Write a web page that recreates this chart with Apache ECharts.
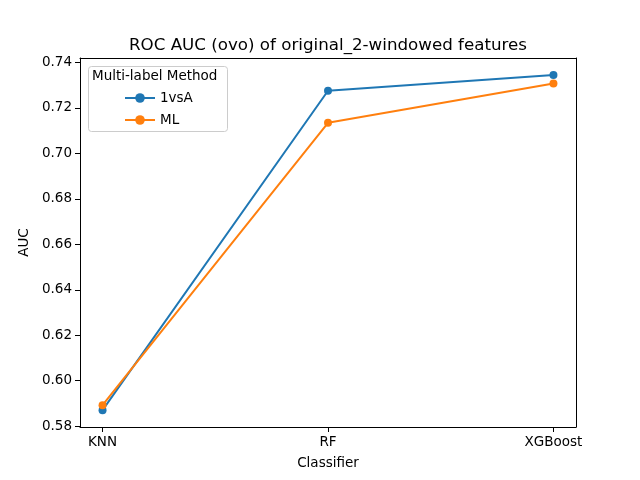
<!DOCTYPE html>
<html>
<head>
<meta charset="utf-8">
<script src="https://cdn.jsdelivr.net/npm/echarts@6/dist/echarts.min.js"></script>
<style>
  html, body { margin: 0; padding: 0; background: #fff; }
  #chart { width: 640px; height: 480px; }
</style>
</head>
<body>
<div id="chart"></div>
<script>
// data
const classifiers = ['KNN', 'RF', 'XGBoost']
const oneVsAll = [0.587, 0.7276, 0.7345]
const multiLabel = [0.5892, 0.7135, 0.7308]
const yTicks = [0.58, 0.60, 0.62, 0.64, 0.66, 0.68, 0.70, 0.72, 0.74]

const font = 'DejaVu Sans'
const chart = echarts.init(document.getElementById('chart'))

function toPoints(vals) {
  return vals.map((v, i) => [i, v])
}

const frameAxis = {
  type: 'value',
  axisLine: { show: true, onZero: false, lineStyle: { color: '#000', width: 1 } },
  axisTick: { show: false },
  axisLabel: { show: false },
  splitLine: { show: false },
}

const option = {
  animation: false,
  textStyle: { fontFamily: font },
  title: {
    text: 'ROC AUC (ovo) of original_2-windowed features',
    left: 323,
    top: 32,
    textAlign: 'center',
    textStyle: { fontFamily: font, fontSize: 16.7, fontWeight: 'normal', color: '#000' },
  },
  grid: { left: 80, right: 64, top: 58, bottom: 53 },
  legend: {
    orient: 'vertical',
    left: 119,
    top: 86,
    itemWidth: 30,
    itemHeight: 12,
    itemGap: 8,
    z: 10,
    textStyle: { fontFamily: font, fontSize: 13.5, color: '#000' },
    data: ['1vsA', 'ML'],
  },
  xAxis: [
    {
      type: 'value',
      min: -0.1,
      max: 2.1,
      name: 'Classifier',
      nameLocation: 'middle',
      nameGap: 29,
      nameTextStyle: { fontFamily: font, fontSize: 13.5, color: '#000' },
      splitLine: { show: false },
      axisLine: { onZero: false, lineStyle: { color: '#000', width: 1 } },
      axisTick: { customValues: [0, 1, 2], length: 5, lineStyle: { color: '#000' } },
      axisLabel: {
        customValues: [0, 1, 2],
        formatter: (v) => classifiers[Math.round(v)],
        color: '#000',
        fontSize: 13.5,
        margin: 8,
      },
    },
    Object.assign({ position: 'top', min: -0.1, max: 2.1 }, frameAxis),
  ],
  yAxis: [
    {
      type: 'value',
      min: 0.5796,
      max: 0.742,
      name: 'AUC',
      nameLocation: 'middle',
      nameGap: 47,
      nameTextStyle: { fontFamily: font, fontSize: 13.5, color: '#000' },
      splitLine: { show: false },
      axisLine: { show: true, onZero: false, lineStyle: { color: '#000', width: 1 } },
      axisTick: { show: true, customValues: yTicks, length: 5, lineStyle: { color: '#000' } },
      axisLabel: {
        customValues: yTicks,
        formatter: (v) => v.toFixed(2),
        color: '#000',
        fontSize: 13.5,
        margin: 8,
      },
    },
    Object.assign({ position: 'right', min: 0.5796, max: 0.742 }, frameAxis),
  ],
  graphic: [
    {
      type: 'rect',
      shape: { x: 88.5, y: 66.5, width: 139, height: 65, r: 3 },
      style: { fill: 'rgba(255,255,255,0.8)', stroke: '#cccccc', lineWidth: 1 },
      z: 9,
    },
    {
      type: 'text',
      x: 92,
      y: 69,
      style: { text: 'Multi-label Method', font: '13.5px "DejaVu Sans"', fill: '#000' },
      z: 10,
    },
  ],
  series: [
    {
      name: '1vsA',
      type: 'line',
      data: toPoints(oneVsAll),
      symbol: 'circle',
      symbolSize: 8,
      color: '#1f77b4',
      lineStyle: { width: 2 },
      z: 3,
    },
    {
      name: 'ML',
      type: 'line',
      data: toPoints(multiLabel),
      symbol: 'circle',
      symbolSize: 8,
      color: '#ff7f0e',
      lineStyle: { width: 2 },
      z: 4,
    },
  ],
}
chart.setOption(option)
</script>
</body>
</html>
